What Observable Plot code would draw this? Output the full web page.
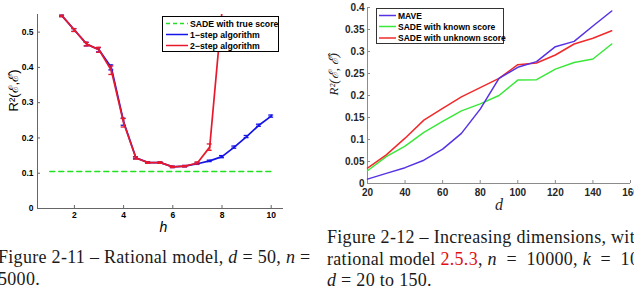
<!DOCTYPE html>
<html><head><meta charset="utf-8">
<script src="https://cdn.jsdelivr.net/npm/d3@7"></script>
<script src="https://cdn.jsdelivr.net/npm/@observablehq/plot@0.6"></script>
<style>
html,body{margin:0;padding:0;background:#fff;overflow:hidden;width:634px;height:301px}
#root{position:relative;width:634px;height:301px;overflow:hidden;background:#fff}
.abs{position:absolute}
.cap{position:absolute;font-family:"Liberation Serif","DejaVu Serif",serif;font-size:18px;letter-spacing:0.3px;line-height:21.7px;color:#1a1a1a;white-space:nowrap}
.leg{position:absolute;background:#fff;box-sizing:border-box;font-family:"Liberation Sans",Arial,sans-serif;font-weight:bold;color:#000}
.leg svg{position:absolute;left:0;top:0}
.leg span{position:absolute;white-space:nowrap;line-height:10px}
</style></head><body><div id="root"></div><script>
// ---------- Figure 2-11 data ----------
const hOneStep = [1.5,2,2.5,3,3.5,4,4.5,5,5.5,6,6.5,7,7.5,8,8.5,9,9.5,10];
const oneStep  = [0.546,0.506,0.466,0.450,0.400,0.246,0.144,0.130,0.130,0.118,0.120,0.127,0.135,0.147,0.174,0.204,0.236,0.262];
const oneStepErr = [0.002,0.004,0.005,0.006,0.007,0.010,0.003,0.002,0.002,0.002,0.002,0.002,0.002,0.003,0.003,0.003,0.003,0.003];
const hTwoStep = [1.5,2,2.5,3,3.5,4,4.5,5,5.5,6,6.5,7,7.5,8];
const twoStep  = [0.546,0.506,0.466,0.450,0.392,0.243,0.143,0.130,0.130,0.118,0.120,0.129,0.174,0.560];
const twoStepErr = [0.002,0.004,0.005,0.007,0.012,0.012,0.003,0.002,0.002,0.002,0.002,0.003,0.009,0];
const trueScoreH = [1,10];
const trueScore = 0.105;
const hTicks = [2,4,6,8,10];
const yTicksL = [0,0.1,0.2,0.3,0.4,0.5];
const legendL = ["SADE with true score","1\u2212step algorithm","2\u2212step algorithm"];
const colorsL = ["#22e022","#1414e6","#e8192c"];

// ---------- Figure 2-12 data ----------
const dims = [20,30,40,50,60,70,80,90,100,110,120,130,140,150];
const mave = [0.010,0.023,0.036,0.053,0.078,0.114,0.169,0.239,0.264,0.277,0.311,0.323,0.358,0.392];
const sadeKnown = [0.029,0.061,0.085,0.116,0.141,0.165,0.181,0.200,0.235,0.236,0.260,0.275,0.283,0.317];
const sadeUnknown = [0.035,0.065,0.103,0.144,0.171,0.197,0.218,0.239,0.270,0.274,0.292,0.317,0.330,0.347];
const dTicks = [20,40,60,80,100,120,140,160];
const yTicksR = [0,0.05,0.1,0.15,0.2,0.25,0.3,0.35,0.4];
const legendR = ["MAVE","SADE with known score","SADE with unknown score"];
const colorsR = ["#5632e4","#3ae83a","#f02a2a"];

const root = document.getElementById("root");
const fmt = d => String(+d.toFixed(2));

// ---------- left chart ----------
const oneRows = hOneStep.map((h,i)=>({h, v: oneStep[i], e: oneStepErr[i]}));
const twoRows = hTwoStep.map((h,i)=>({h, v: twoStep[i], e: twoStepErr[i]}));
const LW = 300, LH = 235, LmL = 37, LmR = 17, LmT = 14, LmB = 27;
const errMarks = (rows, color) => [
  Plot.ruleX(rows.filter(d=>d.e>0), {x:"h", y1:d=>d.v-d.e, y2:d=>d.v+d.e, stroke:color, strokeWidth:1.3, clip:true}),
  Plot.ruleY(rows.filter(d=>d.e>0), {y:d=>d.v+d.e, x1:d=>d.h-0.1, x2:d=>d.h+0.1, stroke:color, strokeWidth:1.3, clip:true}),
  Plot.ruleY(rows.filter(d=>d.e>0), {y:d=>d.v-d.e, x1:d=>d.h-0.1, x2:d=>d.h+0.1, stroke:color, strokeWidth:1.3, clip:true})
];
const leftPlot = Plot.plot({
  width: LW, height: LH, marginLeft: LmL, marginRight: LmR, marginTop: LmT, marginBottom: LmB,
  x: {domain: [0.5, 10.5]},
  y: {domain: [0, 0.55]},
  style: {fontFamily: "'Liberation Sans', Arial, sans-serif", fontSize: "8.5px", fontWeight: "bold", color: "#000", background: "transparent", overflow: "visible"},
  marks: [
    Plot.axisX({ticks: hTicks, tickSize: 0, tickPadding: 3, label: null, tickFormat: d=>String(d)}),
    Plot.axisY({ticks: yTicksL, tickSize: 0, tickPadding: 4, label: null, tickFormat: fmt}),
    Plot.tickX(hTicks, {x: d=>d, insetTop: LH-LmT-LmB-3, stroke: "#666"}),
    Plot.tickY(yTicksL, {y: d=>d, insetRight: LW-LmL-LmR-3, stroke: "#666"}),
    Plot.ruleY([0], {stroke: "#666"}),
    Plot.ruleX([0.5], {stroke: "#666"}),
    Plot.line(trueScoreH, {x: d=>d, y: ()=>trueScore, stroke: colorsL[0], strokeWidth: 1.5, strokeDasharray: "5,4"}),
    Plot.line(oneRows, {x:"h", y:"v", stroke: colorsL[1], strokeWidth: 1.7, clip: true}),
    ...errMarks(oneRows, colorsL[1]),
    Plot.line(twoRows, {x:"h", y:"v", stroke: colorsL[2], strokeWidth: 1.7, clip: true}),
    ...errMarks(twoRows, colorsL[2]),
    Plot.text(["h"], {frameAnchor: "bottom", dy: 23, dx: 3, text: d=>d, fontSize: 14, fontStyle: "italic", fontWeight: "normal", fontFamily: "'Liberation Sans', Arial, sans-serif", fill: "#000"}),
    Plot.text(["R\u00B2(\u2130,\u2130\u0302)"], {frameAnchor: "left", dx: -24, rotate: -90, text: d=>d, fontSize: 13, fontWeight: "normal", fontFamily: "'Liberation Sans', Arial, sans-serif", fill: "#000"})
  ]
});
const lw = document.createElement("div");
lw.className = "abs"; lw.style.left = "0px"; lw.style.top = "0px";
lw.appendChild(leftPlot); root.appendChild(lw);

// ---------- right chart ----------
const RW = 324, RH = 220, RmL = 57, RmR = 4, RmT = 7, RmB = 37;
const rows = (vals, name) => dims.map((d,i)=>({d, v: vals[i], s: name}));
const rightPlot = Plot.plot({
  width: RW, height: RH, marginLeft: RmL, marginRight: RmR, marginTop: RmT, marginBottom: RmB,
  x: {domain: [20, 160]},
  y: {domain: [0, 0.4]},
  style: {fontFamily: "'Liberation Sans', Arial, sans-serif", fontSize: "10px", fontWeight: "bold", color: "#262626", background: "transparent", overflow: "visible"},
  marks: [
    Plot.axisX({ticks: dTicks, tickSize: 0, tickPadding: 5, label: null, tickFormat: d=>String(d)}),
    Plot.axisY({ticks: yTicksR, tickSize: 0, tickPadding: 3, label: null, tickFormat: fmt}),
    Plot.tickX(dTicks, {x: d=>d, insetTop: RH-RmT-RmB-3, stroke: "#8c8c8c"}),
    Plot.tickY(yTicksR, {y: d=>d, insetRight: RW-RmL-RmR-3, stroke: "#8c8c8c"}),
    Plot.ruleY([0], {stroke: "#8c8c8c"}),
    Plot.ruleX([20], {stroke: "#8c8c8c"}),
    Plot.line(rows(sadeKnown, legendR[1]), {x:"d", y:"v", stroke: colorsR[1], strokeWidth: 1.5}),
    Plot.line(rows(sadeUnknown, legendR[2]), {x:"d", y:"v", stroke: colorsR[2], strokeWidth: 1.5}),
    Plot.line(rows(mave, legendR[0]), {x:"d", y:"v", stroke: colorsR[0], strokeWidth: 1.5}),
    Plot.text(["d"], {frameAnchor: "bottom", dy: 26, text: d=>d, fontSize: 16, fontStyle: "italic", fontWeight: "normal", fontFamily: "'Liberation Serif', serif", fill: "#262626"}),
    Plot.text(["R\u00B2(\u2130,\u2009\u2130\u0302)"], {frameAnchor: "left", dx: -34, rotate: -90, text: d=>d, fontSize: 13, fontStyle: "italic", fontWeight: "normal", fontFamily: "'Liberation Serif', serif", fill: "#262626"})
  ]
});
const rw = document.createElement("div");
rw.className = "abs"; rw.style.left = "310px"; rw.style.top = "0px";
rw.appendChild(rightPlot); root.appendChild(rw);

// ---------- legends ----------
function legend({x, y, w, h, names, colors, dashes, border, fontSize, rowY, lineX1, lineX2, textX, lw}) {
  const box = document.createElement("div");
  box.className = "leg";
  Object.assign(box.style, {left: x+"px", top: y+"px", width: w+"px", height: h+"px", border: border, fontSize: fontSize+"px"});
  names.forEach((n,i)=>{
    const ns = "http://www.w3.org/2000/svg";
    const s = document.createElementNS(ns, "svg");
    s.setAttribute("width", w); s.setAttribute("height", h);
    const ln = document.createElementNS(ns, "line");
    ln.setAttribute("x1", lineX1); ln.setAttribute("x2", lineX2);
    ln.setAttribute("y1", rowY[i]); ln.setAttribute("y2", rowY[i]);
    ln.setAttribute("stroke", colors[i]); ln.setAttribute("stroke-width", lw);
    if (dashes[i]) ln.setAttribute("stroke-dasharray", dashes[i]);
    s.appendChild(ln); box.appendChild(s);
    const t = document.createElement("span");
    t.textContent = n;
    t.style.left = textX + "px"; t.style.top = (rowY[i]-5) + "px";
    box.appendChild(t);
  });
  root.appendChild(box);
}
legend({x: 162, y: 16, w: 117, h: 36, names: legendL, colors: colorsL, dashes: ["4,3",null,null],
  border: "1.6px solid #000", fontSize: 8.7, rowY: [6.5,17.5,28.5], lineX1: 3, lineX2: 25, textX: 27, lw: 1.5});
legend({x: 376, y: 8, w: 128, h: 36, names: legendR, colors: colorsR, dashes: [null,null,null],
  border: "1px solid #333", fontSize: 8.5, rowY: [6.5,17.5,29], lineX1: 2, lineX2: 19, textX: 21, lw: 1.5});

// ---------- captions ----------
const c1 = document.createElement("div");
c1.className = "cap"; c1.style.left = "-2px"; c1.style.top = "247px";
c1.innerHTML = "Figure 2-11 \u2013 Rational model, <i>d</i> = 50, <i>n</i> =<br>5000.";
root.appendChild(c1);
const c2 = document.createElement("div");
c2.className = "cap"; c2.style.left = "327px"; c2.style.top = "227px";
c2.innerHTML = "Figure 2-12 \u2013 Increasing dimensions, with<br>rational model <span style=\"color:#e01010\">2.5.3</span>, <i>n</i> &nbsp;= &nbsp;10000, <i>k</i> &nbsp;= &nbsp;10,<br><i>d</i> = 20 to 150.";
root.appendChild(c2);
</script></body></html>
